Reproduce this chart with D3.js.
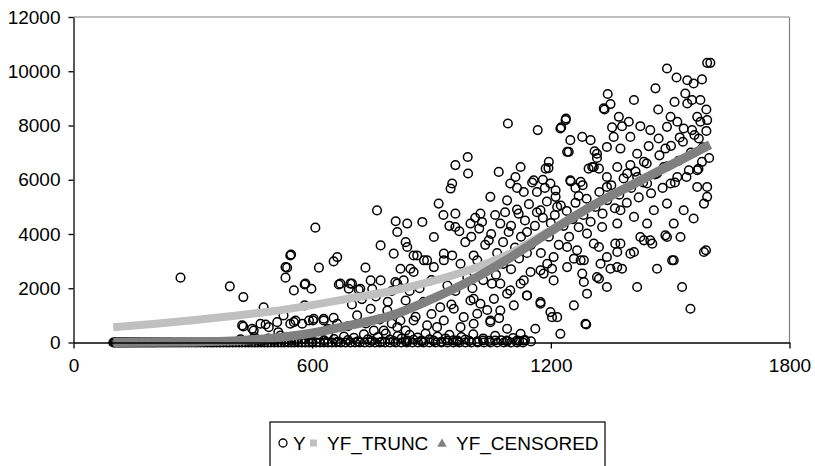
<!DOCTYPE html>
<html><head><meta charset="utf-8">
<script src="https://cdn.jsdelivr.net/npm/d3@7"></script>
<style>body{margin:0;background:#fff}svg{display:block}</style>
</head><body><svg id="c" width="815" height="466"></svg>
<script>
const xTicks=[0,600,1200,1800];
const yTicks=[0,2000,4000,6000,8000,10000,12000];
const seriesNames=["Y","YF_TRUNC","YF_CENSORED"];

// observations of Y equal to zero (censored)
const zeroX=[100,103,106,110,113,117,120,124,128,131,135,139,143,147,151,155,160,164,168,173,178,182,187,192,197,202,207,212,218,224,230,236,242,248,255,262,268,275,282,290,297,305,312,320,328,336,345,352,360,368,376,385,392,400,408,416,424,432,440,448,456,464,472,480,488,496,505,514,522,530,540,548,556,565,574,583,592,600,610,620,630,640,650,660,672,684,696,708,720,732,745,758,770,783,796,810,824,838,852,866,880,895,910,925,940,955,970,985,1000,1016,1032,1048,1065,1082,1100,1115,1130];

// other observations [x, Y]
const obsPts=[
[420,120],[440,60],[455,200],[470,40],[490,150],[505,90],[520,260],[535,30],[550,180],[560,60],[575,120],[590,240],[600,40],[615,160],[630,80],[640,300],[655,130],[665,30],[680,220],[690,90],[705,170],[715,40],[730,300],[740,120],[750,60],[765,200],[775,30],[785,330],[795,110],[805,50],[815,240],[825,150],[835,40],[845,280],[855,100],[865,180],[875,40],[885,330],[895,120],[905,60],[915,220],[925,30],[935,150],[945,280],[955,80],[965,40],[975,200],[985,110],[995,60],[1005,300],[1015,40],[1030,150],[1045,60],[1060,250],[1075,80],[1090,40],[1105,160],[1120,60],[1135,90],[1150,40],
[269,2390],[393,2070],[427,1675],[478,1300],[427,590],[453,440],[483,665],[512,750],[515,380],[533,2390],[537,2760],[547,3240],[554,1920],[558,810],[581,2140],[581,1370],[598,1980],[608,4235],[602,810],[617,2760],[629,810],[654,2990],[663,3150],[654,910],[667,2140],[692,1980],[700,2170],[717,1945],[713,1000],[734,2760],[747,2290],[751,1970],[747,1245],[763,4870],[772,3580],[772,2290],[755,440],[789,1180],[805,3275],[810,4470],[814,4075],[814,2170],[822,2720],[830,2290],[835,3700],[835,1550],[822,810],[835,440],
[424,630],[449,505],[470,690],[491,565],[545,690],[575,690],[592,810],
[545,3210],[533,2780],[583,2170],[671,2170],[696,2170],[721,1980],[809,2230],[839,3520],[864,3210],[855,2600],[889,3030],[906,2780],[931,3030],[952,3210],[973,2905],[1006,3210],[1040,2780],[1073,2170],[1090,1800],[1124,2170],[1149,2600],[1182,2540],[1191,2905],[1207,2290],[1006,1610],[1023,1430],[1057,1610],[1107,1370],[1140,1735],[1174,1490],[1199,1120],[1216,935],[922,1300],[956,1245],[931,810],[981,935],[1006,690],[1048,810],[1090,505],[1124,320],[1161,505],[889,630],[855,810],[814,565],[780,440],[629,875],[604,875],[554,750],[528,1000],[663,690],
[918,5120],[960,4750],[1023,4750],[1048,5370],[1090,5240],[1119,4750],[1174,4875],[1216,5000],[839,4385],[877,4445],[960,4260],[906,3890],[998,4385],[1027,4445],[1073,4385],[1044,3765],[1094,4075],[1140,4075],[855,3210],[881,3030],[931,3275],[847,2720],[1015,3030],[1052,2170],[1098,1920],[1132,2290],[1174,2660],[1207,3150],[1241,3520],[1266,3400],[1275,3030],[1279,2540],[1241,2780],[1203,2720],[1283,2230],[1321,2350],[1291,1800],[1341,2045],[1417,2045],[1530,2045],[1467,2720],[1509,3030],[1585,3335],[1590,3400],[1551,1245],[1287,690],[1258,1370],[1224,320],[1203,935],[1174,1430],[1140,1735],[1073,1180],[1048,750],[998,1550],[1015,1060],[914,565],[973,565],[1030,75],[1060,75],[1090,75],[1115,75],[1132,75],[840,75],[875,75],[905,75],[940,75],[965,75],
[1362,3645],[1400,3275],[1434,3765],[1455,3645],[1492,3890],[1526,3890],[1509,4385],[1459,4875],[1442,4385],[1492,5120],[1534,4875],[1559,4570],[1585,5120],[1593,5370],[1367,4385],[1329,4260],[1291,4015],[1375,4875],[1409,4630],[1325,2905],[1367,2780],[1341,3150],[1258,3090],[1308,3645],[1289,665],[1505,3030],[1367,3335],[1409,3335],[1450,3765],[1488,3950],[1425,3890],[1375,3645],[1321,3520],[1283,3030],[1316,2410],[1350,2720],[1379,2720],
[1593,10310],[1601,10310],[1492,10100],[1516,9770],[1543,9670],[1559,9550],[1580,9700],[1463,9370],[1538,9180],[1555,8940],[1576,8940],[1511,8870],[1409,8940],[1343,9160],[1350,8790],[1335,8590],[1470,8590],[1591,8590],[1543,8810],[1501,8320],[1568,8320],[1593,8200],[1576,8140],[1518,8140],[1534,7890],[1492,7950],[1555,7830],[1572,7520],[1524,7560],[1371,8320],[1396,8140],[1379,7975],[1354,7930],[1425,7975],[1450,7830],[1471,7520],[1446,7240],[1488,7150],[1400,7580],[1358,7580],[1341,7210],[1375,7150],[1417,6960],[1434,6660],[1400,6540],[1367,6470],[1341,6100],[1392,6230],[1316,6960],[1308,6470],[1300,7460],[1279,7580],[1249,7460],[1241,7030],[1237,8200],[1224,7890],[1167,7830],[1187,6410],[1195,6660],[1295,6410],[1321,6410],[1249,5980],[1275,5920],[1341,5735],[1157,5980],[1199,5860],[1547,6350],[1568,6350],[1580,6660],[1568,5735],[1593,5735],[1518,6100],[1501,5860],[1467,6230],[1484,6470],[1417,6100],[1442,5860],
[1092,8075],[1226,7930],[1238,8260],[1245,7030],[1333,8630],[960,6540],[991,6840],[992,6230],[952,5860],[948,5675],[1069,6290],[1111,6100],[1124,6470],[1098,5860],[1115,5700],[1132,5550],[1153,5900],[1165,5550],[1180,6000],[1194,6430],[1185,5700],[1212,5610],[1212,5370],[1250,5940],[1262,5700],[1270,5400],[1280,5800],[1304,6470],[1310,7050],[1316,6800],
[930,4700],[945,4300],[970,4100],[985,3700],[1000,3900],[1010,4600],[1020,4200],[1035,3600],[1050,4000],[1060,4700],[1065,3300],[1080,3700],[1085,4800],[1100,4300],[1110,3500],[1115,4900],[1125,3900],[1135,4500],[1145,5100],[1150,3600],[1160,4300],[1165,4800],[1175,3300],[1180,4600],[1190,5200],[1195,3900],[1200,4400],[1210,4700],[1220,3600],[1225,5050],[1232,4300],[1240,4850],[1246,3900],[1255,4550],[1262,5150],[1270,4250],[1282,4700],[1290,5300],[1300,4450],[1312,5000],[1322,5550],[1330,4750],[1342,5250],[1352,5800],[1361,4950],[1372,5450],[1383,6050],[1391,5150],[1402,5700],[1413,6300],[1421,5350],[1432,5900],[1441,6600],[1452,5500],[1462,6200],[1473,6900],[1481,5700],[1493,6500],[1502,7250],[1512,5900],[1521,6700],[1532,7400],[1541,6100],[1552,7000],[1561,7650],[1571,6400],[1582,7200],[1591,7800],[1598,6800],
[700,1400],[725,1600],[760,1700],[790,1500],[800,1900],[845,1900],[870,2000],[880,1500],[900,2300],[940,2100],[960,1900],[990,2400],[1003,2000],[1030,2300],[1062,2500],[1080,2900],[1100,2700],[1120,3100],[1140,3300],
[640,500],[690,600],[735,700],[770,850],[800,700],[860,950],[900,1050],[950,1400],[1040,1200],[1070,900]
];

// fitted values (read along the two bands)
const fitX=[100,200,300,400,500,600,700,800,900,1000,1100,1200,1300,1400,1500,1600];
const yfTrunc=[560,680,820,980,1150,1380,1640,1900,2250,2700,3300,4150,5020,5800,6550,7300];
const yfCens=[0,5,20,60,160,350,650,1000,1600,2300,3150,4100,5000,5780,6530,7290];

const svg=d3.select("#c");
const x=d3.scaleLinear().domain([0,1800]).range([73.5,789.5]);
const y=d3.scaleLinear().domain([0,12000]).range([342.5,17]);
const FONT="'Liberation Sans', Arial, sans-serif";

// frame (top and right in gray)
svg.append("line").attr("x1",x(0)).attr("x2",x(1800)).attr("y1",y(12000)).attr("y2",y(12000)).attr("stroke","#808080").attr("stroke-width",1.2);
svg.append("line").attr("x1",x(1800)).attr("x2",x(1800)).attr("y1",y(12000)).attr("y2",y(0)).attr("stroke","#808080").attr("stroke-width",1.2);

// data
const g=svg.append("g");
g.selectAll("circle.z").data(zeroX).join("circle").attr("class","z")
 .attr("cx",d=>x(d)).attr("cy",y(0)).attr("r",4.3)
 .attr("fill","none").attr("stroke","#000").attr("stroke-width",1.5);
g.selectAll("circle.o").data(obsPts).join("circle").attr("class","o")
 .attr("cx",d=>x(d[0])).attr("cy",d=>y(d[1])).attr("r",4.3)
 .attr("fill","none").attr("stroke","#000").attr("stroke-width",1.5);

const lineT=d3.line().x((d,i)=>x(fitX[i])).y(d=>y(d)).curve(d3.curveMonotoneX);
g.append("path").attr("d",lineT(yfTrunc)).attr("fill","none").attr("stroke","#c0c0c0").attr("stroke-width",8);
g.append("path").attr("d",lineT(yfCens)).attr("fill","none").attr("stroke","#808080").attr("stroke-width",9);

// axes
const ax=svg.append("g").attr("transform",`translate(0,${y(0)})`)
 .call(d3.axisBottom(x).tickValues(xTicks).tickSize(6).tickSizeOuter(0).tickFormat(d3.format("d")));
const ay=svg.append("g").attr("transform",`translate(${x(0)},0)`)
 .call(d3.axisLeft(y).tickValues(yTicks).tickSize(5).tickSizeOuter(0).tickFormat(d3.format("d")));
[ax,ay].forEach(a=>{a.selectAll("path,line").attr("stroke","#000").attr("stroke-width",1.3);
 a.selectAll("text").attr("font-family",FONT).attr("font-size",19).attr("fill","#000");});
ax.selectAll("text").attr("dy","1.05em").attr("y",10);
ay.selectAll("text").attr("x",-13);

// legend
const lg=svg.append("g");
lg.append("rect").attr("x",270).attr("y",422).attr("width",335).attr("height",60).attr("fill","#fff").attr("stroke","#000").attr("stroke-width",1.2);
const ly=443;
lg.append("circle").attr("cx",283).attr("cy",ly).attr("r",4).attr("fill","none").attr("stroke","#000").attr("stroke-width",1.3);
lg.append("text").attr("x",293).attr("y",450).text(seriesNames[0]);
lg.append("rect").attr("x",310).attr("y",ly-3.5).attr("width",7).attr("height",7).attr("fill","#c0c0c0");
lg.append("text").attr("x",327).attr("y",450).text(seriesNames[1]);
lg.append("path").attr("d",d3.symbol(d3.symbolTriangle,40)()).attr("transform",`translate(442,${ly+1})`).attr("fill","#808080");
lg.append("text").attr("x",456).attr("y",450).text(seriesNames[2]);
lg.selectAll("text").attr("font-family",FONT).attr("font-size",19).attr("fill","#000");
</script></body></html>
